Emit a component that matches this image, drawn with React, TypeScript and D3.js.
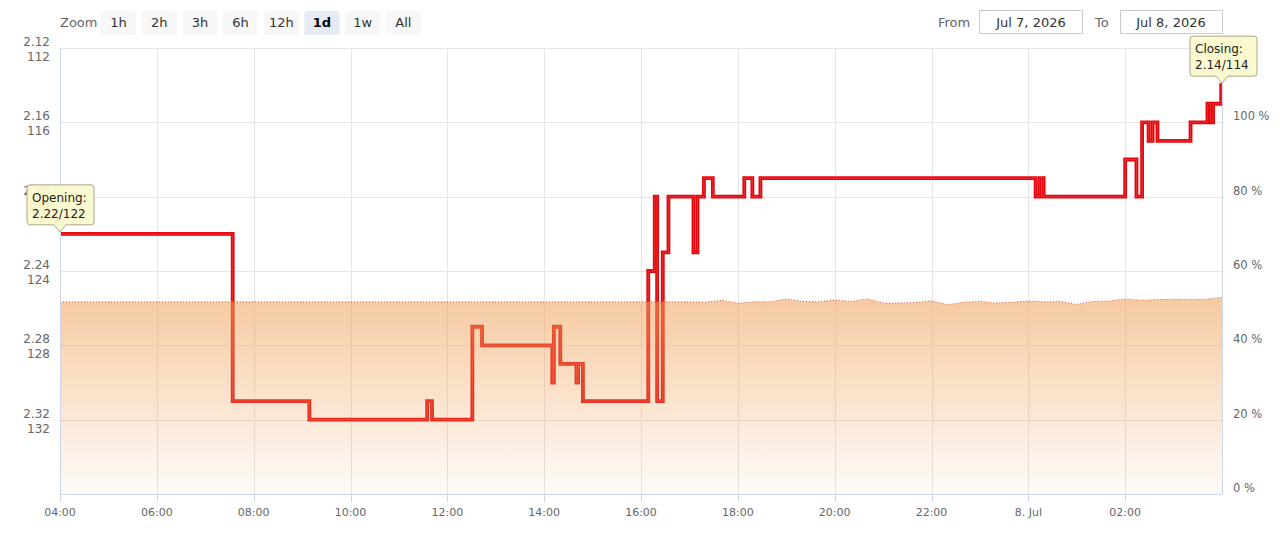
import * as d3 from "d3";

// odds changes (decimal), step after each timestamp
const oddsTimes = [
  "2026-07-07 04:00", "2026-07-07 07:34", "2026-07-07 09:09", "2026-07-07 11:35", "2026-07-07 11:41",
  "2026-07-07 12:31", "2026-07-07 12:43", "2026-07-07 14:10", "2026-07-07 14:12", "2026-07-07 14:20",
  "2026-07-07 14:40", "2026-07-07 14:42", "2026-07-07 14:48", "2026-07-07 16:09", "2026-07-07 16:17",
  "2026-07-07 16:20", "2026-07-07 16:27", "2026-07-07 16:34", "2026-07-07 17:05", "2026-07-07 17:10",
  "2026-07-07 17:18", "2026-07-07 17:29", "2026-07-07 18:08", "2026-07-07 18:18", "2026-07-07 18:28",
  "2026-07-08 00:09", "2026-07-08 00:14", "2026-07-08 00:19", "2026-07-08 02:00", "2026-07-08 02:14",
  "2026-07-08 02:21", "2026-07-08 02:29", "2026-07-08 02:34", "2026-07-08 02:40", "2026-07-08 03:21",
  "2026-07-08 03:42", "2026-07-08 03:46", "2026-07-08 03:49", "2026-07-08 03:59", "2026-07-08 04:00",
];
const oddsValues = [
  2.22, 2.31, 2.32, 2.31, 2.32,
  2.27, 2.28, 2.30, 2.27, 2.29,
  2.30, 2.29, 2.31, 2.24, 2.20,
  2.31, 2.23, 2.20, 2.23, 2.20,
  2.19, 2.20, 2.19, 2.20, 2.19,
  2.20, 2.19, 2.20, 2.18, 2.20,
  2.16, 2.17, 2.16, 2.17, 2.16,
  2.15, 2.16, 2.15, 2.14, 2.14,
];

// percentage series (right axis)
const pctTimes = [
  "2026-07-07 04:00", "2026-07-07 16:00", "2026-07-07 16:20", "2026-07-07 16:40", "2026-07-07 17:00",
  "2026-07-07 17:20", "2026-07-07 17:40", "2026-07-07 18:00", "2026-07-07 18:20", "2026-07-07 18:40",
  "2026-07-07 19:00", "2026-07-07 19:20", "2026-07-07 19:40", "2026-07-07 20:00", "2026-07-07 20:20",
  "2026-07-07 20:40", "2026-07-07 21:00", "2026-07-07 21:20", "2026-07-07 21:40", "2026-07-07 22:00",
  "2026-07-07 22:20", "2026-07-07 22:40", "2026-07-07 23:00", "2026-07-07 23:20", "2026-07-07 23:40",
  "2026-07-08 00:00", "2026-07-08 00:20", "2026-07-08 00:40", "2026-07-08 01:00", "2026-07-08 01:20",
  "2026-07-08 01:40", "2026-07-08 02:00", "2026-07-08 02:20", "2026-07-08 02:40", "2026-07-08 03:00",
  "2026-07-08 03:20", "2026-07-08 03:40", "2026-07-08 04:00",
];
const pctValues = [
  51.7, 51.7, 51.7, 51.7, 51.7,
  51.6, 52.1, 51.3, 51.7, 51.7,
  52.5, 51.8, 51.7, 52.2, 51.8,
  52.5, 51.4, 51.4, 51.5, 52.0,
  50.9, 51.6, 51.8, 51.4, 51.6,
  51.9, 51.7, 51.8, 51.0, 51.8,
  51.9, 52.5, 52.1, 52.3, 52.4,
  52.3, 52.4, 52.9,
];

const decimalTicks = [2.12, 2.16, 2.2, 2.24, 2.28, 2.32];
const pctTicks = [0, 20, 40, 60, 80, 100];
const zoomButtons = ["1h", "2h", "3h", "6h", "12h", "1d", "1w", "All"];
const selectedZoom = "1d";
const fromLabel = "Jul 7, 2026";
const toLabel = "Jul 8, 2026";

const parse = d3.timeParse("%Y-%m-%d %H:%M");
const FONT = "'DejaVu Sans', sans-serif";

export default function App() {
  const width = 1280;
  const height = 539;
  const left = 60, right = 1222, top = 48, bottom = 494;

  const x = d3.scaleTime()
    .domain([parse("2026-07-07 04:00")!, parse("2026-07-08 04:00")!])
    .range([left, right]);
  const yOdds = d3.scaleLinear().domain([2.12, 2.36]).range([top, bottom]);
  const yPct = d3.scaleLinear().domain([0, 120]).range([bottom, top]);

  const odds = oddsTimes.map((t, i) => ({ t: parse(t)!, v: oddsValues[i] }));
  const pct = pctTimes.map((t, i) => ({ t: parse(t)!, v: pctValues[i] }));

  const line = d3.line<{ t: Date; v: number }>()
    .x(d => x(d.t))
    .y(d => yOdds(d.v))
    .curve(d3.curveStepAfter);
  const area = d3.area<{ t: Date; v: number }>()
    .x(d => x(d.t))
    .y0(bottom)
    .y1(d => yPct(d.v));
  const areaTop = d3.line<{ t: Date; v: number }>()
    .x(d => x(d.t))
    .y(d => yPct(d.v));

  const xTicks = x.ticks(d3.timeHour.every(2)!).filter(d => x(d) < right - 1);
  const fmt = (d: Date) => d.getHours() === 0 ? `${d.getDate()}. Jul` : d3.timeFormat("%H:%M")(d);

  const first = odds[0];
  const last = odds[odds.length - 1];

  const tooltip = (px: number, py: number, l1: string, l2: string, dx: number) => {
    const w = 67, h = 40;
    const bx = px - dx, by = py - 49;
    const d = `M${bx + 3},${by} H${bx + w - 3} Q${bx + w},${by} ${bx + w},${by + 3} V${by + h - 3} Q${bx + w},${by + h} ${bx + w - 3},${by + h}`
      + ` H${px + 6} L${px},${py - 2} L${px - 6},${by + h} H${bx + 3} Q${bx},${by + h} ${bx},${by + h - 3} V${by + 3} Q${bx},${by} ${bx + 3},${by} Z`;
    return (
      <g>
        <path d={d} fill="#fbf9cb" fillOpacity={0.93} stroke="#a8a58c" strokeWidth={1} />
        <text x={bx + 5} y={by + 17} fontSize={12} fill="#222" fontFamily={FONT}>{l1}</text>
        <text x={bx + 5} y={by + 33} fontSize={12} fill="#222" fontFamily={FONT}>{l2}</text>
      </g>
    );
  };

  return (
    <svg width={width} height={height} style={{ position: "absolute", left: 0, top: 0, background: "#fff" }}>
      <defs>
        <linearGradient id="pctFill" x1="0" y1="0" x2="0" y2="1">
          <stop offset="0%" stopColor="rgb(239,160,86)" stopOpacity={0.56} />
          <stop offset="100%" stopColor="rgb(239,160,86)" stopOpacity={0.04} />
        </linearGradient>
      </defs>

      {/* range selector */}
      <text x={60} y={27} fontSize={13} fill="#666" fontFamily={FONT}>Zoom</text>
      {zoomButtons.map((b, i) => {
        const bx = 101 + i * 40.7;
        const sel = b === selectedZoom;
        return (
          <g key={b}>
            <rect x={bx} y={11} width={35} height={24} rx={2} fill={sel ? "#e6ebf5" : "#f7f7f7"} />
            <text x={bx + 17.5} y={27} textAnchor="middle" fontSize={13} fill={sel ? "#000" : "#333"}
              fontWeight={sel ? "bold" : "normal"} fontFamily={FONT}>{b}</text>
          </g>
        );
      })}
      <text x={938} y={27} fontSize={13} fill="#666" fontFamily={FONT}>From</text>
      <rect x={979.5} y={10.5} width={103} height={23} fill="#fff" stroke="#ccc" />
      <text x={1031} y={27} textAnchor="middle" fontSize={13} fill="#333" fontFamily={FONT}>{fromLabel}</text>
      <text x={1095} y={27} fontSize={13} fill="#666" fontFamily={FONT}>To</text>
      <rect x={1120.5} y={10.5} width={102} height={23} fill="#fff" stroke="#ccc" />
      <text x={1171} y={27} textAnchor="middle" fontSize={13} fill="#333" fontFamily={FONT}>{toLabel}</text>

      {/* grid */}
      {decimalTicks.map(t => (
        <line key={t} x1={left} x2={right} y1={Math.round(yOdds(t)) + 0.5} y2={Math.round(yOdds(t)) + 0.5} stroke="#e6e6e6" />
      ))}
      {xTicks.filter(d => x(d) > left + 1).map(d => (
        <line key={+d} x1={Math.round(x(d)) + 0.5} x2={Math.round(x(d)) + 0.5} y1={top} y2={bottom} stroke="#e6e6e6" />
      ))}

      {/* odds line */}
      <path d={line(odds)!} fill="none" stroke="#e3060d" strokeWidth={3.8} strokeLinejoin="miter" />
      <path d={line(odds)!} fill="none" stroke="#f24848" strokeWidth={1} opacity={0.6} />

      {/* percentage area drawn over the line */}
      <path d={area(pct)!} fill="url(#pctFill)" />
      <path d={areaTop(pct)!} fill="none" stroke="#d9534a" strokeWidth={1} strokeDasharray="1,2" />

      {/* axes */}
      <line x1={left + 0.5} x2={left + 0.5} y1={top} y2={bottom} stroke="#ccd6eb" />
      <line x1={right + 0.5} x2={right + 0.5} y1={top} y2={bottom} stroke="#ccd6eb" />
      <line x1={left} x2={right} y1={bottom + 0.5} y2={bottom + 0.5} stroke="#ccd6eb" />
      {xTicks.map(d => (
        <g key={+d}>
          <line x1={Math.round(x(d)) + 0.5} x2={Math.round(x(d)) + 0.5} y1={bottom} y2={bottom + 8} stroke="#ccd6eb" />
          <text x={x(d)} y={516} textAnchor="middle" fontSize={11} fill="#666" fontFamily={FONT}>{fmt(d)}</text>
        </g>
      ))}
      {decimalTicks.map(t => (
        <g key={t} fontSize={12} fill="#666" fontFamily={FONT} textAnchor="end">
          <text x={50} y={yOdds(t) - 2}>{t.toFixed(2)}</text>
          <text x={50} y={yOdds(t) + 13}>{Math.round((t - 1) * 100)}</text>
        </g>
      ))}
      {pctTicks.map(t => (
        <text key={t} x={1233} y={yPct(t) - 2} fontSize={11.5} fill="#666" fontFamily={FONT}>{`${t} %`}</text>
      ))}

      {/* flags */}
      {tooltip(x(first.t), yOdds(first.v), "Opening:", `${first.v.toFixed(2)}/${Math.round((first.v - 1) * 100)}`, 33)}
      {tooltip(x(last.t), yOdds(last.v), "Closing:", `${last.v.toFixed(2)}/${Math.round((last.v - 1) * 100)}`, 32)}
    </svg>
  );
}
